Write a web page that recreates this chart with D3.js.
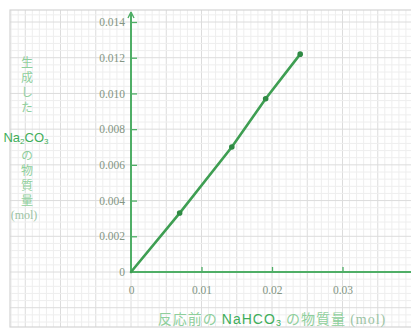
<!DOCTYPE html>
<html><head><meta charset="utf-8">
<script src="https://cdn.jsdelivr.net/npm/d3@7"></script>
<style>html,body{margin:0;padding:0;background:#fff;}</style>
</head><body>
<svg id="c" width="411" height="331"></svg>
<script>
// data: NaHCO3 before reaction (mol) vs Na2CO3 produced (mol)
const nahco3 = [0, 0.0069, 0.0143, 0.0191, 0.0240];
const na2co3 = [0, 0.0033, 0.0070, 0.0097, 0.0122];
const xTicks = [0, 0.01, 0.02, 0.03];
const xTickLabels = ["0", "0.01", "0.02", "0.03"];
const yTicks = [0, 0.002, 0.004, 0.006, 0.008, 0.010, 0.012, 0.014];
const yTickLabels = ["0", "0.002", "0.004", "0.006", "0.008", "0.010", "0.012", "0.014"];

const svg = d3.select("#c");
const x = d3.scaleLinear().domain([0, 0.04]).range([131, 413]);
const y = d3.scaleLinear().domain([0, 0.014]).range([272, 22]);

// graph paper grid
const gx0 = 10, gx1 = 411, gy0 = 10, gy1 = 327;
const grid = svg.append("g");
const xs = d3.range(Math.ceil(x.invert(gx0) / 0.001), Math.floor(x.invert(gx1) / 0.001) + 1);
const ys = d3.range(Math.ceil(y.invert(gy1) / 0.0004), Math.floor(y.invert(gy0) / 0.0004) + 1);
grid.selectAll("line.vx").data(xs).join("line")
  .attr("x1", d => x(d * 0.001)).attr("x2", d => x(d * 0.001))
  .attr("y1", gy0).attr("y2", gy1)
  .attr("stroke", d => d % 5 === 0 ? "#dcdcdc" : "#eeeeee").attr("stroke-width", 1);
grid.selectAll("line.hy").data(ys).join("line")
  .attr("y1", d => y(d * 0.0004)).attr("y2", d => y(d * 0.0004))
  .attr("x1", gx0).attr("x2", gx1)
  .attr("stroke", d => d % 5 === 0 ? "#dcdcdc" : "#eeeeee").attr("stroke-width", 1);
svg.append("rect").attr("x", gx0).attr("y", gy0).attr("width", gx1 - gx0 + 5).attr("height", gy1 - gy0)
  .attr("fill", "none").attr("stroke", "#d4d4d4").attr("stroke-width", 1.2);

const axisColor = "#4fae66";
const tickColor = "#849684";

// y axis
const yAxis = d3.axisLeft(y).tickValues(yTicks).tickFormat((d, i) => yTickLabels[i])
  .tickSizeInner(-6).tickSizeOuter(0).tickPadding(6);
const gy = svg.append("g").attr("transform", "translate(131,0)").call(yAxis);
gy.select(".domain").remove();
gy.selectAll(".tick line").attr("stroke", axisColor).attr("stroke-width", 1.3);
gy.selectAll(".tick text").attr("fill", tickColor).attr("font-family", "Liberation Serif, serif").attr("font-size", 11.5);

// x axis
const xAxis = d3.axisBottom(x).tickValues(xTicks).tickFormat((d, i) => xTickLabels[i])
  .tickSizeInner(-5).tickSizeOuter(0).tickPadding(14);
const gxA = svg.append("g").attr("transform", "translate(0,272)").call(xAxis);
gxA.select(".domain").remove();
gxA.selectAll(".tick line").attr("stroke", axisColor).attr("stroke-width", 1.3);
gxA.selectAll(".tick text").attr("fill", tickColor).attr("font-family", "Liberation Serif, serif").attr("font-size", 11.5);
gxA.selectAll(".tick").filter(d => d === 0).select("line").remove();
gy.selectAll(".tick").filter(d => d === 0).select("line").remove();

// axis lines with arrows
svg.append("line").attr("x1", x(0)).attr("x2", x(0)).attr("y1", y(0)).attr("y2", 12)
  .attr("stroke", axisColor).attr("stroke-width", 2);
svg.append("path").attr("d", `M${x(0)},12 L${x(0) - 3},18 M${x(0)},12 L${x(0) + 3},18`)
  .attr("stroke", axisColor).attr("stroke-width", 1.4).attr("fill", "none");
svg.append("line").attr("x1", x(0)).attr("x2", 411).attr("y1", y(0)).attr("y2", y(0))
  .attr("stroke", axisColor).attr("stroke-width", 2);

// data line
const pts = nahco3.map((v, i) => [v, na2co3[i]]);
svg.append("path").datum(pts)
  .attr("d", d3.line().x(d => x(d[0])).y(d => y(d[1])))
  .attr("fill", "none").attr("stroke", "#3e9e52").attr("stroke-width", 2.6).attr("stroke-linecap", "round");
svg.selectAll("circle.p").data(pts.slice(1)).join("circle")
  .attr("cx", d => x(d[0])).attr("cy", d => y(d[1])).attr("r", 2.8).attr("fill", "#2f8a44");

// y axis label (vertical Japanese)
const lblColor = "#8fcf9c";
const strong = "#3fae5a";
const lx = 27;
const jp = "Noto Sans CJK JP";
function vtext(str, top) {
  svg.append("text").attr("x", lx).attr("y", top)
    .attr("font-family", jp).attr("font-size", 12).attr("fill", lblColor)
    .style("writing-mode", "vertical-rl").attr("letter-spacing", 3).text(str);
}
vtext("生成した", 56);
const na = svg.append("text").attr("x", lx - 1).attr("y", 142).attr("text-anchor", "middle")
  .attr("font-family", "Liberation Sans, sans-serif").attr("font-size", 13).attr("fill", strong);
na.append("tspan").text("Na");
na.append("tspan").attr("font-size", 8).attr("dy", 2).text("2");
na.append("tspan").attr("dy", -2).text("CO");
na.append("tspan").attr("font-size", 8).attr("dy", 2).text("3");
vtext("の物質量", 149);
svg.append("text").attr("x", lx - 3).attr("y", 219).attr("text-anchor", "middle")
  .attr("font-family", "Liberation Serif, serif").attr("font-size", 12).attr("fill", "#9cc4a4").text("(mol)");

// x axis label
const xl = svg.append("text").attr("x", 272).attr("y", 324).attr("text-anchor", "middle")
  .attr("font-family", jp).attr("font-size", 14).attr("letter-spacing", 1).attr("fill", lblColor);
xl.append("tspan").text("反応前の ");
xl.append("tspan").attr("font-family", "Liberation Sans, sans-serif").attr("fill", strong).text("NaHCO");
xl.append("tspan").attr("font-family", "Liberation Sans, sans-serif").attr("fill", strong).attr("font-size", 9).attr("dy", 2).text("3");
xl.append("tspan").attr("dy", -2).text(" の物質量 ");
xl.append("tspan").attr("font-family", "Liberation Serif, serif").attr("fill", "#9cc4a4").text("(mol)");
</script>
</body></html>
